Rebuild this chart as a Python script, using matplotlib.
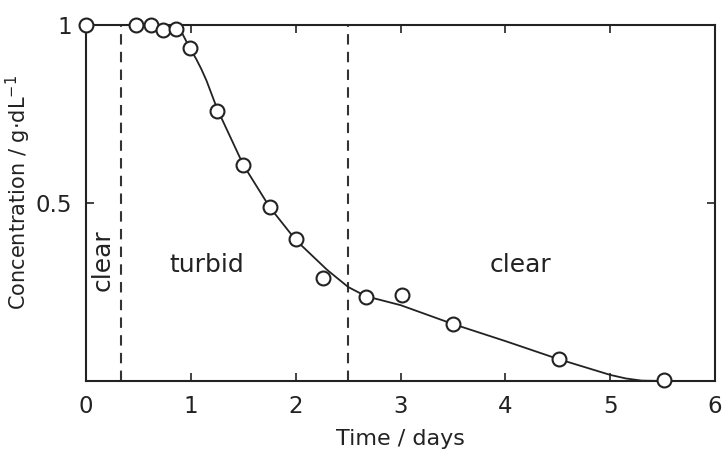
import numpy as np
import matplotlib
matplotlib.use("Agg")
import matplotlib.pyplot as plt

# measured points (time in days, concentration in g/dL)
time_pts = [0.0, 0.48, 0.62, 0.73, 0.86, 0.99, 1.25, 1.50, 1.75, 2.00, 2.26, 2.67, 3.01, 3.50, 4.51, 5.51]
conc_pts = [1.0, 1.0, 1.0, 0.985, 0.99, 0.935, 0.758, 0.607, 0.489, 0.399, 0.289, 0.236, 0.242, 0.16, 0.062, 0.003]

# smooth guide curve drawn through the data
time_fit = [0.0, 0.85, 0.92, 0.99, 1.05, 1.10, 1.15, 1.25, 1.50, 1.75, 2.00, 2.30, 2.50, 2.67,
            3.00, 3.50, 4.00, 4.50, 4.80, 5.00, 5.15, 5.30, 5.50]
conc_fit = [1.0, 1.0, 0.975, 0.935, 0.905, 0.876, 0.843, 0.765, 0.607, 0.489, 0.396, 0.312, 0.264, 0.238,
            0.213, 0.16, 0.112, 0.062, 0.035, 0.017, 0.007, 0.001, 0.0]

# boundaries between clear / turbid regions
boundaries = [0.33, 2.5]
xticks = [0, 1, 2, 3, 4, 5, 6]
yticks = [0.5, 1]

plt.rcParams['font.family'] = ['DejaVu Sans']
ink = '#222222'

fig = plt.figure(figsize=(7.26, 4.59), dpi=100)
ax = fig.add_axes([0.1185, 0.17, 0.8665, 0.7755])

for b in boundaries:
    ax.axvline(b, color='#333333', lw=1.5, ls=(0, (5, 3.5)), zorder=1)

ax.plot(time_fit, conc_fit, color=ink, lw=1.3, zorder=2)
ax.plot(time_pts, conc_pts, 'o', ms=10, mfc='white', mec=ink, mew=1.5,
        clip_on=False, zorder=3)

ax.text(0.16, 0.34, 'clear', rotation=90, ha='center', va='center',
        fontsize=18, color=ink)
ax.text(1.15, 0.326, 'turbid', ha='center', va='center', fontsize=18, color=ink)
ax.text(4.14, 0.326, 'clear', ha='center', va='center', fontsize=18, color=ink)

ax.set_xlim(0, 6)
ax.set_ylim(0, 1)
ax.set_xticks(xticks)
ax.set_yticks(yticks)
ax.set_yticklabels(['0.5', '1'])
ax.tick_params(direction='in', length=6, width=1.2, colors=ink,
               top=True, right=True, labelsize=16.5, pad=10)
for sp in ax.spines.values():
    sp.set_linewidth(1.5)
    sp.set_color(ink)

ax.set_xlabel('Time / days', fontsize=16, color=ink, labelpad=8)
ax.set_ylabel('Concentration / g\u00b7dL$^{-1}$', fontsize=15, color=ink)
ax.yaxis.set_label_coords(-0.085, 0.53)

fig.savefig('out.png', dpi=100)
